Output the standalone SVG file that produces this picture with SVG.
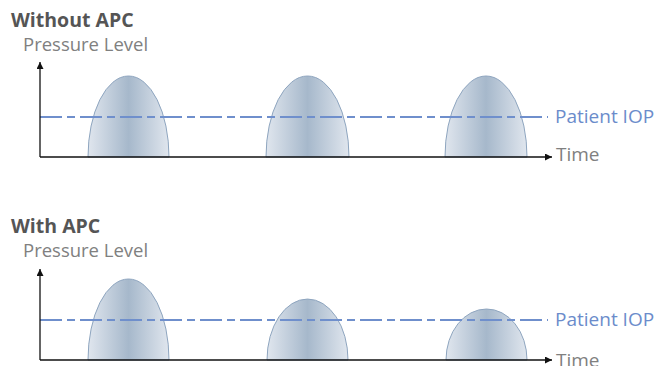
<svg xmlns="http://www.w3.org/2000/svg" width="663" height="366" viewBox="0 0 663 366">
<style>
.title{font-family:"Open Sans","Noto Sans",sans-serif;font-weight:bold;font-size:19.5px;fill:#555}
.lbl{font-family:"Open Sans","Noto Sans",sans-serif;font-size:19px;fill:#808080}
.pl{font-size:18.5px}
.iop{font-family:"Open Sans","Noto Sans",sans-serif;font-size:19px;fill:#6b8ccb}
.axis{stroke:#111;stroke-width:1.3;fill:none}
.dash{stroke:#6f8fcc;stroke-width:2;fill:none;stroke-dasharray:22 5 8 5}
.hump{fill:url(#g);stroke:#8ea5bf;stroke-width:1}
</style>
<defs>
<linearGradient id="g" x1="0" y1="0" x2="1" y2="0">
<stop offset="0" stop-color="#e0e6ee"/>
<stop offset="0.5" stop-color="#a6b8cb"/>
<stop offset="1" stop-color="#e0e6ee"/>
</linearGradient>
<marker id="ah" viewBox="0 0 10 10" refX="10" refY="5" markerWidth="7" markerHeight="7" markerUnits="userSpaceOnUse" orient="auto">
<path d="M0,0 L10,5 L0,10 Z" fill="#111"/>
</marker>
</defs>
<g id="top-panel">
<text class="title" x="11" y="27">Without APC</text>
<text class="lbl pl" x="23" y="51">Pressure Level</text>
<g id="top-humps">
<path class="hump" d="M88,157 A40.5,81 0 0 1 169,157 Z"/>
<path class="hump" d="M266,157 A41.5,81 0 0 1 349,157 Z"/>
<path class="hump" d="M445,157 A41,81 0 0 1 527,157 Z"/>
</g>
<text class="iop" x="555" y="123">Patient IOP</text>
<text class="lbl" x="556" y="161">Time</text>
</g>
<g id="bottom-panel">
<text class="title" x="11" y="233">With APC</text>
<text class="lbl pl" x="23" y="257">Pressure Level</text>
<g id="bottom-humps">
<path class="hump" d="M88,360 A40.5,81 0 0 1 169,360 Z"/>
<path class="hump" d="M267,360 A40.5,61 0 0 1 348,360 Z"/>
<path class="hump" d="M446,360 A40.5,51 0 0 1 527,360 Z"/>
</g>
<text class="iop" x="555" y="326">Patient IOP</text>
<text class="lbl" x="556" y="367">Time</text>
</g>
<g id="connectors">
<line class="dash" x1="40" y1="117" x2="548" y2="117"/>
<line class="axis" x1="40" y1="157" x2="40" y2="62" marker-end="url(#ah)"/>
<line class="axis" x1="40" y1="157" x2="552" y2="157" marker-end="url(#ah)"/>
<line class="dash" x1="40" y1="320" x2="548" y2="320"/>
<line class="axis" x1="40" y1="360" x2="40" y2="269" marker-end="url(#ah)"/>
<line class="axis" x1="40" y1="360" x2="552" y2="360" marker-end="url(#ah)"/>
</g>
</svg>
